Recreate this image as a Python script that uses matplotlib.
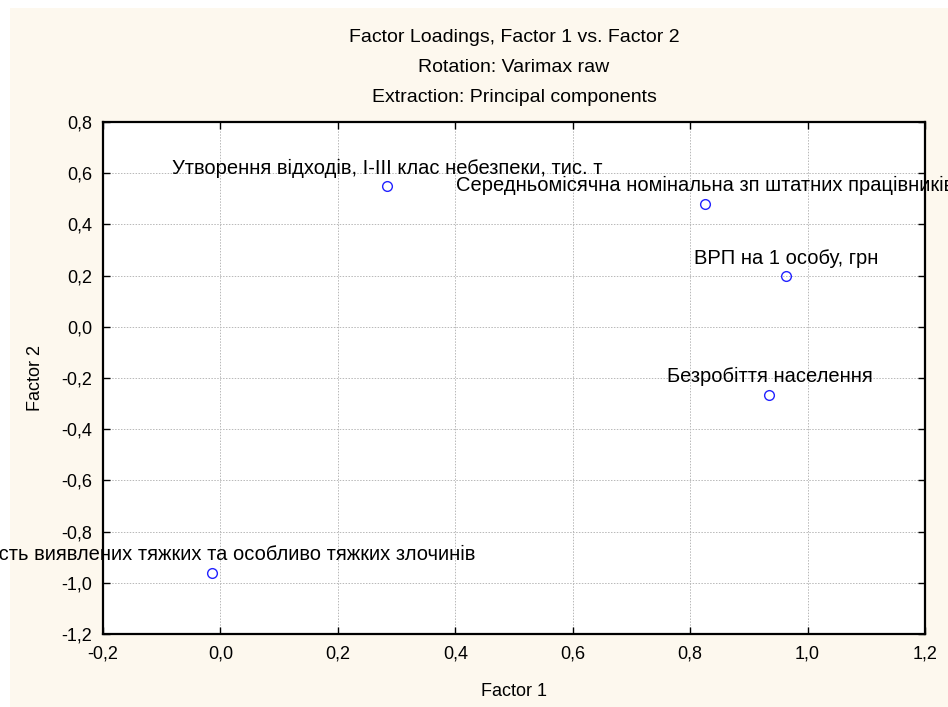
import numpy as np
import matplotlib.pyplot as plt
from matplotlib.patches import Rectangle

# =========================================
# DATA
# =========================================
labels = [
    "Кількість виявлених тяжких та особливо тяжких злочинів",
    "Утворення відходів, I-III клас небезпеки, тис. т",
    "Середньомісячна номінальна зп штатних працівників",
    "ВРП на 1 особу, грн",
    "Безробіття населення",
]
factor1 = [-0.015, 0.284, 0.825, 0.963, 0.935]
factor2 = [-0.960, 0.550, 0.480, 0.197, -0.266]

x_ticks = [-0.2, 0.0, 0.2, 0.4, 0.6, 0.8, 1.0, 1.2]
y_ticks = [-1.2, -1.0, -0.8, -0.6, -0.4, -0.2, 0.0, 0.2, 0.4, 0.6, 0.8]

title_lines = [
    "Factor Loadings, Factor 1 vs. Factor 2",
    "Rotation: Varimax raw",
    "Extraction: Principal components",
]

# =========================================
# STYLE
# =========================================
plt.rcParams["font.family"] = ["Liberation Sans", "DejaVu Sans"]
BG = "#fdf8ee"
W, H = 948, 707


def fmt(v):
    return f"{v:.1f}".replace(".", ",").replace("-0,0", "0,0")


fig = plt.figure(figsize=(W / 100, H / 100), dpi=100)
fig.patch.set_facecolor("white")
fig.patches.append(Rectangle((10 / W, 0), 1, 1 - 8 / H, transform=fig.transFigure,
                             facecolor=BG, edgecolor="none", zorder=-10))

ax = fig.add_axes([103 / W, 1 - 634 / H, (925 - 103) / W, (634 - 122) / H])
ax.set_facecolor("white")

ax.plot(factor1, factor2, linestyle="none", marker="o", markersize=7,
        markerfacecolor="none", markeredgecolor="#2222ff", markeredgewidth=1.0,
        zorder=3)

# labels sit centred above each point; the long ones run off the figure edge
for lab, xv, yv in zip(labels, factor1, factor2):
    ax.annotate(lab, (xv, yv), xytext=(0, 9), textcoords="offset points",
                ha="center", va="baseline", fontsize=14.5, color="black",
                annotation_clip=False, clip_on=False)

ax.set_xlim(-0.2, 1.2)
ax.set_ylim(-1.2, 0.8)
ax.set_xticks(x_ticks)
ax.set_yticks(y_ticks)
ax.set_xticklabels([fmt(v) for v in x_ticks])
ax.set_yticklabels([fmt(v) for v in y_ticks])
ax.tick_params(direction="in", length=5, width=1.0, labelsize=13,
               top=True, right=True, pad=8, color="black")

ax.grid(True, linestyle=(0, (1.5, 1.5)), linewidth=0.7, color="#b8b8b8")
ax.set_axisbelow(True)
for sp in ax.spines.values():
    sp.set_linewidth(1.6)
    sp.set_color("black")

fig.text(514 / W, 1 - 692 / H, "Factor 1", ha="center", va="center", fontsize=13)
fig.text(35 / W, 1 - 378 / H, "Factor 2", ha="center", va="center",
         rotation=90, fontsize=13)

for yy, line in zip([38, 67, 98], title_lines):
    fig.text(514 / W, 1 - yy / H, line, ha="center", va="center", fontsize=14)

fig.savefig("out.png", dpi=100, facecolor=fig.get_facecolor())
